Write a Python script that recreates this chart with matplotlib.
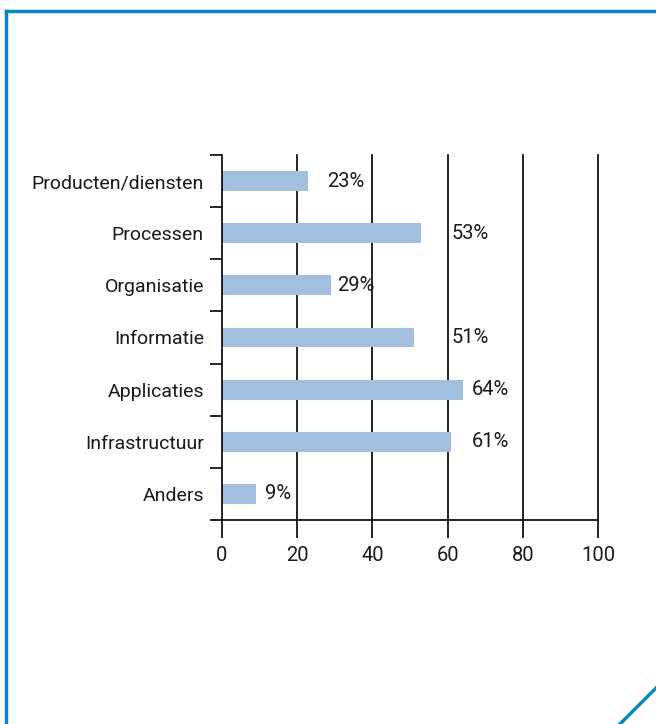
import matplotlib.pyplot as plt
from matplotlib.lines import Line2D
import numpy as np

plt.rcParams['font.family'] = ['Roboto', 'DejaVu Sans']

categories = ['Producten/diensten', 'Processen', 'Organisatie', 'Informatie',
              'Applicaties', 'Infrastructuur', 'Anders']
values = [23, 53, 29, 51, 64, 61, 9]
# label positions (x in data units) so the percentages line up in columns
label_x = [28, 61, 30.5, 61, 66.5, 66.5, 11.5]
xticks = [0, 20, 40, 60, 80, 100]

bar_color = '#a3bfe0'
frame_color = '#0a86c6'
text_color = '#1a1a1a'

fig = plt.figure(figsize=(6.56, 7.24), dpi=100)
ax = fig.add_axes([0.3384, 0.2818, 0.5732, 0.5041])

y = np.arange(len(categories))
ax.barh(y, values, height=0.38, color=bar_color, zorder=1)
for yi, v, lx in zip(y, values, label_x):
    ax.text(lx, yi, f'{v}%', va='center', ha='left', fontsize=14.5, color=text_color)

ax.set_xlim(0, 100)
ax.set_ylim(len(categories) - 0.5, -0.5)

# grid lines at each 20
for t in xticks[1:]:
    ax.axvline(t, color='black', lw=1.2, zorder=0, clip_on=False)

for side in ['top', 'right']:
    ax.spines[side].set_visible(False)
ax.spines['left'].set_linewidth(1.2)
ax.spines['bottom'].set_linewidth(1.2)

ax.set_xticks(xticks)
ax.set_xticklabels([str(t) for t in xticks], fontsize=14.5, color=text_color)
ax.tick_params(axis='x', length=13, width=1.2, pad=6)

# ticks between categories, names centred on each band
ax.set_yticks(np.arange(len(categories) + 1) - 0.5)
ax.set_yticklabels([])
ax.tick_params(axis='y', which='major', length=9, width=1.2)
ax.set_yticks(y, minor=True)
ax.set_yticklabels(categories, minor=True, fontsize=14, color=text_color)
ax.tick_params(axis='y', which='minor', length=0, pad=13)

# blue frame around the panel
fig.add_artist(Line2D([0.009, 1.0], [0.985, 0.985], color=frame_color, lw=2.5))
fig.add_artist(Line2D([0.009, 0.009], [0.0, 0.985], color=frame_color, lw=2.5))
fig.add_artist(Line2D([620 / 656, 1.0], [0.0, 1 - 688 / 724], color=frame_color, lw=2.5))

fig.savefig('out.png', dpi=100)
